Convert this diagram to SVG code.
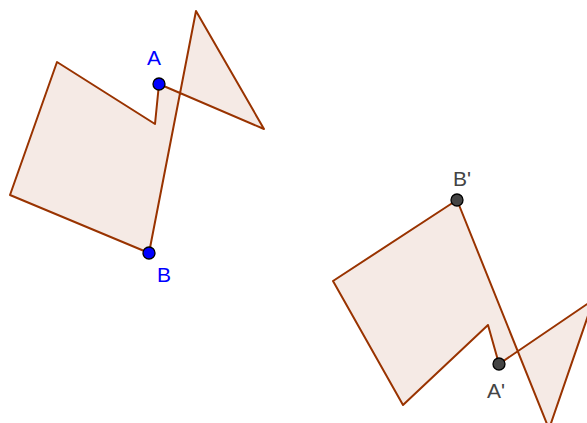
<svg xmlns="http://www.w3.org/2000/svg" width="587" height="423" viewBox="0 0 587 423">
<style>
.poly{fill:#993300;fill-opacity:0.1;stroke:#993300;stroke-width:2;stroke-linejoin:round}
.pt{stroke:#000;stroke-width:1.3}
.blue{fill:#0000ff}
.gray{fill:#444444}
text{font-family:"Liberation Sans",Arial,sans-serif;font-size:21px}
</style>
<rect width="587" height="423" fill="#ffffff"/>
<g id="polygon1">
<polygon class="poly" points="149,253 196,11 264,129 159,84 155,124 57,62 10,195"/>
</g>
<g id="polygon2">
<polygon class="poly" points="457,200 549,429 593.5,299.7 499,364 488,325 403,405 333,281"/>
</g>
<g id="A"><circle class="pt blue" cx="159" cy="84" r="6"/><text class="blue" x="147" y="65">A</text></g>
<g id="B"><circle class="pt blue" cx="149" cy="253" r="6"/><text class="blue" x="157" y="282">B</text></g>
<g id="B1"><circle class="pt gray" cx="457" cy="200" r="6"/><text class="gray" x="453" y="186">B'</text></g>
<g id="A1"><circle class="pt gray" cx="499" cy="364" r="6"/><text class="gray" x="487" y="398">A'</text></g>
</svg>
